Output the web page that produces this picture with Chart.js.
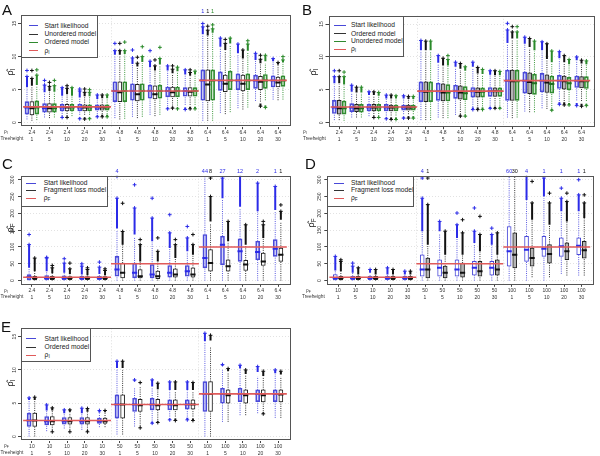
<!DOCTYPE html>
<html><head><meta charset="utf-8">
<script src="https://cdn.jsdelivr.net/npm/chart.js@4.4.1/dist/chart.umd.min.js"></script>
<style>
html,body{margin:0;padding:0;background:#fff;}
body{width:600px;height:456px;position:relative;overflow:hidden;font-family:"Liberation Sans",Arial,Helvetica,sans-serif;color:#222;}
canvas{position:absolute;}
.letter{position:absolute;font-size:15px;line-height:15px;color:#111;}
.leg{position:absolute;border:1px solid #555;background:#fff;box-sizing:border-box;z-index:2;}
.leg .ln{position:absolute;height:0;border-top:1px solid;}
.leg .tx{position:absolute;font-size:6.7px;line-height:8px;white-space:nowrap;color:#222;}
.rowh{position:absolute;font-size:4.8px;line-height:6px;white-space:nowrap;color:#333;}
.ylab{position:absolute;font-size:9px;line-height:10px;white-space:nowrap;transform:translate(-50%,-50%) rotate(-90deg);color:#222;}
sub{font-size:70%;vertical-align:-0.25em;line-height:0;}
</style>
</head><body>
<script>
// ---------- tick labels / categories ----------
const XR_PI = ['2.4','2.4','2.4','2.4','2.4','4.8','4.8','4.8','4.8','4.8','6.4','6.4','6.4','6.4','6.4'];
const XR_PF = ['10','10','10','10','10','50','50','50','50','50','100','100','100','100','100'];
const XR_TREE = ['1','5','10','20','30','1','5','10','20','30','1','5','10','20','30'];
const YT_I = [0,5,10,15];
const YT_F = [0,50,100,150,200,250,300];
const REF_I = [2.4,4.8,6.4];
const REF_F = [10,50,100];

// ---------- box stats: [whisker low, Q1, median, Q3, whisker high] ----------
// outliers: [cluster low, cluster high, extreme] ; low: [low, high] of low outliers
const A_START_BOX = [[0.5,1.3,2.3,3.2,5.4],[0.8,1.6,2.2,2.9,4.5],[1.0,1.8,2.3,2.8,4.0],[1.2,1.8,2.3,2.8,3.7],[1.3,1.9,2.3,2.7,3.5],[0.7,3.2,4.8,6.2,10.2],[0.9,3.4,4.8,5.9,8.8],[1.2,3.7,4.8,5.7,8.3],[2.5,3.9,4.8,5.4,7.8],[2.7,4.0,4.8,5.3,7.2],[0.3,3.4,6.4,8.0,13.3],[1.5,4.9,6.4,7.7,11.4],[2.2,5.0,6.4,7.4,10.4],[3.3,5.2,6.4,7.2,9.4],[3.5,5.4,6.4,7.1,9.2]];
const A_START_OUT = [[5.4,7.0,7.9],[4.6,5.7,6.4],[4.1,5.3,null],[3.8,4.8,5.1],[3.6,4.2,null],[10.3,10.9,12.0],[8.9,9.8,11.0],[8.4,9.3,10.9],[7.9,8.6,null],[7.3,8.0,null],[13.4,14.5,15.0],[11.5,12.8,null],[10.5,11.9,null],[9.5,10.5,null],[9.3,9.7,null]];
const A_START_LOW = [null,null,[0.8,0.9],[0.6,0.8],[0.9,1.1],null,null,null,[2.1,2.3],[2.0,2.3],null,null,null,null,null];
const A_START_CNT = ['','','','','','','','','','','1','','','',''];
const A_UNORD_BOX = [[0.3,1.2,2.2,3.2,5.5],[0.7,1.6,2.2,2.9,4.7],[1.0,1.8,2.3,2.8,4.2],[1.2,1.8,2.3,2.7,3.9],[1.3,1.9,2.3,2.7,3.6],[0.5,3.2,4.6,6.2,10.2],[0.7,3.3,4.3,5.8,8.4],[1.0,3.6,4.3,5.6,7.8],[2.6,3.9,4.6,5.4,7.4],[2.7,4.0,4.7,5.3,7.0],[0.3,3.3,5.8,8.0,13.1],[1.3,4.7,5.9,7.2,10.9],[2.0,4.8,5.9,7.2,9.6],[3.2,5.0,6.2,7.0,8.9],[3.4,5.4,6.1,6.9,8.7]];
const A_UNORD_OUT = [[5.6,6.7,7.9],[4.8,5.5,6.1],[4.3,5.2,5.6],[4.0,4.6,5.1],[3.7,4.2,null],[10.3,10.9,12.0],[8.5,9.0,9.9],[7.9,8.6,9.5],[7.5,8.1,8.6],[7.1,7.6,8.0],[13.2,14.0,14.6],[11.0,12.0,12.6],[9.7,11.0,null],[9.0,9.6,10.2],[8.8,9.1,null]];
const A_UNORD_LOW = [null,null,[0.8,0.9],[0.55,0.8],[0.9,1.2],null,null,null,[2.2,2.4],[2.1,2.4],null,null,null,[2.5,2.9],null];
const A_UNORD_CNT = ['','','','','','','','','','','1','','','',''];
const A_ORD_BOX = [[0.4,1.3,2.3,3.3,5.6],[0.8,1.6,2.2,2.9,4.6],[1.0,1.8,2.3,2.8,4.0],[1.2,1.8,2.3,2.7,3.9],[1.3,1.9,2.3,2.7,3.6],[0.6,3.2,4.8,6.2,10.3],[0.9,3.4,4.8,5.9,9.0],[1.2,3.7,4.8,5.7,8.6],[2.6,3.9,4.8,5.4,7.6],[2.7,4.0,4.8,5.3,7.1],[0.3,3.4,6.4,8.0,13.5],[1.6,5.0,6.4,7.8,11.8],[2.3,5.0,6.4,7.4,10.6],[3.4,5.2,6.4,7.3,9.0],[3.5,5.5,6.4,7.1,8.9]];
const A_ORD_OUT = [[5.7,7.2,8.0],[4.7,5.6,6.4],[4.1,5.3,null],[4.0,4.6,5.0],[3.7,4.2,null],[10.4,10.9,12.2],[9.2,10.0,11.5],[8.8,9.7,11.4],[7.8,8.4,null],[7.3,7.8,null],[13.6,14.2,14.8],[12.0,12.8,null],[10.9,11.9,12.4],[9.3,10.2,null],[9.1,9.5,10.0]];
const A_ORD_LOW = [null,null,null,[0.6,0.8],[0.9,1.2],null,null,null,[2.1,2.3],[2.1,2.4],null,null,null,[2.3,2.6],null];
const A_ORD_CNT = ['','','','','','','','','','','1','','','',''];

const B_START_BOX = [[0.4,1.4,2.3,3.4,5.8],[0.8,1.7,2.3,2.9,4.6],[1.0,1.8,2.3,2.8,4.1],[1.1,1.8,2.3,2.8,3.6],[1.3,1.9,2.3,2.7,3.6],[0.4,3.2,4.8,6.2,10.9],[0.8,3.4,4.8,6.0,9.0],[1.2,3.7,4.8,5.7,8.4],[2.4,3.9,4.8,5.35,8.3],[2.6,4.0,4.8,5.35,7.2],[0.8,3.4,6.4,8.0,12.0],[1.7,4.5,6.4,7.7,11.9],[2.2,4.7,6.4,7.5,10.9],[3.3,5.2,6.4,7.2,9.6],[3.4,5.35,6.4,7.1,9.4]];
const B_START_OUT = [[6.0,7.0,7.9],[4.7,5.7,null],[4.2,4.7,null],[3.7,4.2,null],[3.7,4.1,null],[11.0,12.5,null],[9.1,10.2,null],[8.5,9.2,null],[8.5,9.2,null],[7.3,7.9,null],[12.1,14.1,15.1],[12.0,13.0,null],[11.0,12.3,null],[9.8,10.8,null],[9.5,10.0,null]];
const B_START_LOW = [null,null,null,[0.6,0.8],[0.7,0.9],null,null,null,[2.0,2.3],[2.2,2.4],null,null,null,[2.8,3.1],[2.6,3.0]];
const B_ORD_BOX = [[0.4,1.3,2.2,3.4,5.8],[0.8,1.7,2.2,2.8,4.5],[1.0,1.8,2.3,2.8,4.0],[1.1,1.8,2.3,2.7,3.6],[1.3,1.9,2.3,2.7,3.5],[0.4,3.2,4.7,6.2,10.9],[0.7,3.3,4.6,5.9,8.6],[1.3,3.6,4.6,5.6,8.0],[2.5,3.9,4.7,5.3,7.4],[2.6,4.0,4.8,5.3,7.1],[0.7,3.4,6.3,8.0,12.6],[1.6,4.4,6.2,7.6,11.3],[2.1,4.6,6.1,7.3,9.6],[3.3,5.1,6.3,7.1,9.1],[3.3,5.3,6.3,7.0,8.9]];
const B_ORD_OUT = [[6.0,7.0,7.9],[4.6,5.4,null],[4.2,4.7,null],[3.7,4.2,null],[3.6,4.0,null],[11.0,12.4,null],[8.7,9.8,null],[8.2,9.0,null],[7.5,8.4,null],[7.2,7.9,null],[12.8,13.8,14.6],[11.5,12.8,null],[9.7,12.0,null],[9.2,10.2,null],[9.0,9.5,null]];
const B_ORD_LOW = [null,null,[0.8,0.9],[0.5,0.8],[0.7,1.0],null,null,[1.0,1.2],[2.0,2.3],[2.2,2.4],null,null,null,[2.7,3.1],[2.5,2.9]];
const B_UNORD_BOX = [[0.3,1.3,2.2,3.3,5.7],[0.8,1.6,2.2,2.8,4.5],[1.0,1.8,2.3,2.8,4.0],[1.1,1.8,2.3,2.7,3.6],[1.3,1.9,2.3,2.7,3.5],[0.4,3.2,4.8,6.2,10.8],[0.7,3.3,4.6,5.8,8.6],[1.2,3.5,4.5,5.5,7.8],[2.5,3.9,4.7,5.3,7.3],[2.6,4.0,4.8,5.3,7.1],[0.8,3.4,6.3,8.0,12.6],[1.6,4.3,6.0,7.4,10.8],[2.2,4.5,5.9,7.1,9.0],[3.2,5.0,6.0,6.9,8.8],[3.3,5.2,6.3,7.0,8.8]];
const B_UNORD_OUT = [[5.8,7.0,7.7],[4.6,5.4,null],[4.1,4.6,null],[3.7,4.1,null],[3.6,4.0,null],[11.0,12.4,null],[8.7,9.6,10.2],[7.9,8.5,null],[7.4,8.1,null],[7.2,7.8,null],[12.8,13.8,14.6],[11.0,12.4,null],[9.2,10.9,null],[8.9,9.6,null],[8.9,9.4,null]];
const B_UNORD_LOW = [null,null,[0.8,0.9],[0.5,0.8],[0.7,1.0],null,null,[1.0,1.1],[2.0,2.3],[2.2,2.4],null,null,[1.9,2.1],[2.7,3.0],[2.6,2.9]];

const C_START_BOX = [[0,3,11,18,38],[0,3,8,15,28],[0,3,8,14,23],[0,3,8,13,18],[0,3,8,13,20],[0,13,33,72,150],[0,8,23,52,130],[0,8,18,48,115],[0,10,23,45,95],[0,13,28,45,85],[0,38,67,137,312],[0,47,107,132,240],[0,57,87,124,215],[0,62,85,117,205],[0,72,95,122,205]];
const C_START_OUT = [[38,107,137],[28,67,69],[23,52,65],[18,43,50],[20,40,55],[155,245,310],[137,216,285],[117,186,245],[97,142,196],[87,127,161],null,[245,305,null],[220,310,null],[206,290,null],[210,280,null]];
const C_START_CNT = ['','','','','','4','','','','','44','27','12','2','1'];
const C_FRAG_BOX = [[0,3,8,13,28],[0,3,8,13,22],[0,3,8,12,20],[0,3,8,12,15],[0,3,8,12,15],[0,8,23,52,107],[0,8,13,33,55],[0,6,13,28,55],[0,10,18,35,65],[0,10,18,38,75],[0,28,52,92,170],[0,28,43,62,115],[0,30,48,60,105],[0,45,57,82,125],[0,57,77,97,175]];
const C_FRAG_OUT = [[28,67,null],[22,38,45],[20,35,52],[16,33,38],[16,30,35],[107,146,230],[57,107,122],[57,87,127],[67,107,122],[77,107,137],[176,250,305],[117,176,null],[107,166,null],[127,166,176],[181,206,225]];
const C_FRAG_CNT = ['','','','','','','','','','','8','','','','1'];

const D_START_BOX = [[0,3,8,18,30],[0,3,8,13,23],[0,3,8,13,20],[0,3,8,13,18],[0,3,8,13,18],[0,13,33,77,147],[0,13,38,62,140],[0,13,33,62,125],[0,16,38,57,110],[0,16,38,57,105],[0,43,87,161,312],[0,57,92,132,238],[0,72,95,132,245],[20,72,102,127,205],[15,77,104,127,205]];
const D_START_OUT = [[30,72,null],[23,43,52],[23,33,null],[18,38,null],[18,28,null],[147,245,305],[147,176,null],[127,166,201],[112,147,216],[107,137,156],null,[240,310,null],[250,305,null],[206,245,275],[206,255,300]];
const D_START_CNT = ['','','','','','4','','','','','60','4','1','1','1'];
const D_FRAG_BOX = [[0,3,8,13,28],[0,3,8,13,18],[0,3,8,13,18],[0,3,8,13,18],[0,3,8,13,18],[0,8,33,67,107],[0,8,23,43,77],[0,10,23,52,77],[0,13,28,57,87],[0,16,33,62,77],[0,38,77,142,312],[10,43,67,97,181],[10,52,79,107,166],[15,62,87,112,176],[15,67,90,117,186]];
const D_FRAG_OUT = [[28,57,62],[18,38,null],[18,33,null],[18,33,null],[18,28,null],[107,226,305],[77,147,null],[77,142,181],[87,137,191],[77,142,null],null,[181,231,295],[166,231,260],[176,235,260],[186,231,255]];
const D_FRAG_CNT = ['','','','','','1','','','','','30','','','','1'];

const E_START_BOX = [[0,1.5,2.4,3.5,5.4],[0.8,1.75,2.3,3.0,3.8],[1.2,1.85,2.3,2.85,3.4],[1.0,1.85,2.3,2.85,3.4],[1.4,1.95,2.3,2.75,3.5],[0.3,2.75,4.8,6.25,10.2],[1.5,3.75,4.8,5.75,7.3],[2.4,4.0,4.8,5.75,7.3],[3.0,4.0,4.8,5.5,6.9],[3.0,4.1,4.8,5.5,6.9],[0,3.75,6.4,8.25,14.2],[2.2,5.0,6.4,7.25,10.0],[3.2,5.25,6.4,7.25,10.0],[3.5,5.25,6.4,7.0,9.0],[2.8,5.25,6.4,7.0,9.4]];
const E_START_OUT = [[5.5,5.8,null],[3.9,4.75,null],[3.5,4.0,null],[3.5,4.25,null],[3.6,3.9,null],[10.3,11.3,null],[8.3,8.5,null],[7.5,8.5,null],[7.0,8.2,null],[7.0,8.2,null],[14.3,15.5,null],[10.6,10.8,null],[10.2,10.7,null],[9.7,10.5,null],[9.5,10.0,null]];
const E_START_LOW = [null,null,null,null,null,null,null,[2.0,2.2],[2.5,2.7],[2.5,2.8],null,null,null,null,null];
const E_ORD_BOX = [[0,1.5,2.4,3.5,5.4],[1.0,1.75,2.3,3.0,3.8],[1.0,1.85,2.3,2.85,3.6],[1.0,1.85,2.3,2.85,3.6],[1.4,1.95,2.3,2.75,3.6],[0.3,2.75,4.8,6.25,10.0],[1.6,3.75,4.7,5.6,7.5],[2.5,4.0,4.7,5.6,7.0],[3.0,4.0,4.7,5.5,6.8],[3.0,4.1,4.8,5.5,6.8],[0,3.75,6.4,8.25,13.5],[2.2,5.0,6.2,7.0,9.5],[3.2,5.0,6.2,7.0,9.2],[3.8,5.2,6.2,7.0,9.0],[2.8,5.2,6.3,7.0,9.0]];
const E_ORD_OUT = [[5.5,5.9,null],[3.9,4.3,null],[3.7,4.0,null],[3.7,4.2,null],[3.7,3.9,null],[10.3,11.3,null],[8.0,8.1,null],[7.1,8.0,null],[7.0,8.2,null],[7.0,8.1,null],[14.4,15.2,null],[9.8,10.2,null],[9.4,10.0,null],[9.1,9.8,null],[9.3,9.8,null]];
const E_ORD_LOW = [null,[0.7,0.8],[0.7,0.8],[0.7,0.9],null,null,[1.3,1.4],[2.1,2.3],[2.4,2.7],[2.4,2.7],null,null,null,[3.4,3.6],null];

// ---------- styles ----------
const FONT = '"Liberation Sans", Arial, Helvetica, sans-serif';
const BLUE = {color:'#4848d8', pcolor:'#2b2be8', mcolor:'#2b2be8', wcolor:'#5a5ae0'};
const BLACK = {color:'#222222', pcolor:'#111111', mcolor:'#111111', wcolor:'#333333'};
const GREEN = {color:'#2f8a2f', pcolor:'#2a8a2a', mcolor:'#226e22', wcolor:'#3a963a'};
const FILL_B = 'rgba(110,110,235,0.28)', FILL_G = 'rgba(70,160,70,0.28)', FILL_W = '#ffffff', FILL_GRAY = '#b4b4b4';
const XMIN = 0.38, XMAX = 15.72;

const PANELS = [
 {key:'A', box:{x:0,y:0,w:300,h:146}, area:{l:21,t:15.3,r:290.7,b:126.7}, y:[-0.6,16.25], yt:YT_I, row1:XR_PI, rowHead:'ρ<sub>I</sub>', ref:REF_I,
  ylab:'ρ̂<sub>I</sub>', ylabPos:[10,72], letterPos:[2,1.5], rowPos:[[4,132],[0.5,139]],
  legend:{w:77,h:42.5,rows:[10,18.3,26.7,35],lx:[7,15.5],tx:22.5, items:[['Start likelihood',BLUE.color],['Unordered model','#333'],['Ordered model',GREEN.color],['ρ<sub>I</sub>','#e05a5a']]},
  series:[
   Object.assign({off:-0.28, fill:FILL_B, box:A_START_BOX, out:A_START_OUT, low:A_START_LOW, cnt:A_START_CNT}, BLUE),
   Object.assign({off:0, fill:FILL_W, box:A_UNORD_BOX, out:A_UNORD_OUT, low:A_UNORD_LOW, cnt:A_UNORD_CNT}, BLACK),
   Object.assign({off:0.28, fill:FILL_G, box:A_ORD_BOX, out:A_ORD_OUT, low:A_ORD_LOW, cnt:A_ORD_CNT}, GREEN)]},
 {key:'B', box:{x:300,y:0,w:300,h:146}, area:{l:328.5,t:15.8,r:596,b:126.7}, y:[-0.6,16.25], yt:YT_I, row1:XR_PI, rowHead:'ρ<sub>I</sub>', ref:REF_I,
  ylab:'ρ̂<sub>I</sub>', ylabPos:[312.5,72], letterPos:[302,1.5], rowPos:[[303,132],[303,139]],
  legend:{w:75,h:41,rows:[9,17.3,25,33],lx:[4,16],tx:21.5, items:[['Start likelihood',BLUE.color],['Ordered model','#333'],['Unordered model',GREEN.color],['ρ<sub>I</sub>','#e05a5a']]},
  series:[
   Object.assign({off:-0.28, fill:FILL_B, box:B_START_BOX, out:B_START_OUT, low:B_START_LOW}, BLUE),
   Object.assign({off:0, fill:FILL_GRAY, box:B_ORD_BOX, out:B_ORD_OUT, low:B_ORD_LOW}, BLACK),
   Object.assign({off:0.28, fill:FILL_G, box:B_UNORD_BOX, out:B_UNORD_OUT, low:B_UNORD_LOW}, GREEN)]},
 {key:'C', box:{x:0,y:146,w:300,h:154}, area:{l:21,t:175.7,r:290.7,b:284.3}, y:[-11,312], yt:YT_F, row1:XR_PI, rowHead:'ρ<sub>I</sub>', ref:REF_F,
  ylab:'ρ̂<sub>F</sub>', ylabPos:[10,228], letterPos:[2,156], rowPos:[[4,290.7],[0.5,297]],
  legend:{w:86.5,h:31,rows:[7,14.3,22],lx:[4,14],tx:21.7, items:[['Start likelihood',BLUE.color],['Fragment loss model','#333'],['ρ<sub>F</sub>','#e05a5a']]},
  series:[
   Object.assign({off:-0.16, fill:FILL_B, box:C_START_BOX, out:C_START_OUT, cnt:C_START_CNT}, BLUE),
   Object.assign({off:0.16, fill:FILL_W, box:C_FRAG_BOX, out:C_FRAG_OUT, cnt:C_FRAG_CNT}, BLACK)]},
 {key:'D', box:{x:300,y:146,w:300,h:154}, area:{l:327.3,t:175.7,r:597.3,b:284.3}, y:[-11,312], yt:YT_F, row1:XR_PF, rowHead:'ρ<sub>F</sub>', ref:REF_F,
  ylab:'ρ̂<sub>F</sub>', ylabPos:[311,223], letterPos:[305,156], rowPos:[[306,290.7],[302,297]],
  legend:{w:86.7,h:31,rows:[7,14.3,22],lx:[6,16],tx:22.7, items:[['Start likelihood',BLUE.color],['Fragment loss model','#333'],['ρ<sub>F</sub>','#e05a5a']]},
  series:[
   Object.assign({off:-0.16, fill:FILL_W, box:D_START_BOX, out:D_START_OUT, cnt:D_START_CNT}, BLUE),
   Object.assign({off:0.16, fill:FILL_GRAY, box:D_FRAG_BOX, out:D_FRAG_OUT, cnt:D_FRAG_CNT}, BLACK)]},
 {key:'E', box:{x:0,y:300,w:300,h:156}, area:{l:21,t:328.3,r:290.7,b:440.5}, y:[-0.6,16.25], yt:YT_I, row1:XR_PF, rowHead:'ρ<sub>F</sub>', ref:REF_I,
  ylab:'ρ̂<sub>I</sub>', ylabPos:[10,383], letterPos:[1,319], rowPos:[[4,446],[0.5,453]],
  legend:{w:69.5,h:33.5,rows:[10,18.4,26.7],lx:[4,14],tx:22.6, items:[['Start likelihood',BLUE.color],['Ordered model','#333'],['ρ<sub>I</sub>','#e05a5a']]},
  series:[
   Object.assign({off:-0.16, fill:FILL_B, box:E_START_BOX, out:E_START_OUT, low:E_START_LOW}, BLUE),
   Object.assign({off:0.16, fill:FILL_W, box:E_ORD_BOX, out:E_ORD_OUT, low:E_ORD_LOW}, BLACK)]}
];

function seriesDatasets(s){
  const X = i => i + 1 + s.off;
  const ds = [];
  ds.push({type:'bar', data:s.box.map((b,i)=>({x:X(i), y:[b[1], b[3]]})), backgroundColor:s.fill, borderColor:s.color,
           borderWidth:1, borderSkipped:false, grouped:false, barThickness:4, order:5});
  const wh = [];
  s.box.forEach((b,i)=>{ const x=X(i); wh.push({x,y:b[0]},{x,y:b[1]},{x,y:null},{x,y:b[3]},{x,y:b[4]},{x,y:null}); });
  ds.push({type:'line', data:wh, borderColor:s.wcolor, borderWidth:1, borderDash:[1,1.2], pointRadius:0, spanGaps:false, order:6});
  ds.push({type:'line', data:s.box.map((b,i)=>({x:X(i), y:b[2]})), showLine:false, pointStyle:'line', pointRadius:2.6,
           pointBorderWidth:2, pointBorderColor:s.mcolor, borderColor:s.mcolor, order:4});
  const cl = [], pts = [];
  (s.out||[]).forEach((o,i)=>{ if(!o) return; const x=X(i); cl.push({x,y:o[0]},{x,y:o[1]},{x,y:null}); pts.push({x,y:o[1]}); if(o[2]!=null) pts.push({x,y:o[2]}); });
  (s.low||[]).forEach((o,i)=>{ if(!o) return; const x=X(i); cl.push({x,y:o[0]},{x,y:o[1]},{x,y:null}); pts.push({x,y:o[0]}); });
  ds.push({type:'line', data:cl, borderColor:s.pcolor, borderWidth:2, pointRadius:0, spanGaps:false, order:3});
  ds.push({type:'line', data:pts, showLine:false, pointStyle:'cross', pointRadius:1.9, pointBorderWidth:1,
           pointBorderColor:s.pcolor, pointBackgroundColor:s.pcolor, order:3});
  return ds;
}
function refDataset(ref){
  const d = [];
  ref.forEach((v,k)=>{ d.push({x:5*k+0.5,y:v},{x:5*k+5.5,y:v},{x:5*k+5.5,y:null}); });
  return {type:'line', data:d, borderColor:'#e05a5a', borderWidth:1.6, pointRadius:0, spanGaps:false, order:0};
}
function framePlugin(p){
  return {id:'frame'+p.key, afterDraw(chart){
    const {ctx, chartArea:a} = chart; const x = chart.scales.x;
    ctx.save();
    ctx.strokeStyle = '#555'; ctx.lineWidth = 1;
    ctx.strokeRect(Math.round(a.left)+0.5, Math.round(a.top)+0.5, Math.round(a.right-a.left)-1, Math.round(a.bottom-a.top)-1);
    ctx.font = '5.5px ' + FONT; ctx.textAlign = 'center'; ctx.textBaseline = 'bottom';
    p.series.forEach(s=>{ (s.cnt||[]).forEach((c,i)=>{ if(!c) return; ctx.fillStyle = s.pcolor; ctx.fillText(c, x.getPixelForValue(i+1+s.off), a.top-1.5); }); });
    ctx.restore();
  }};
}
const XT = [1,2,3,4,5,5.5,6,7,8,9,10,10.5,11,12,13,14,15];

PANELS.forEach(p=>{
  const W = p.box.w, H = p.box.h;
  const aL = p.area.l - p.box.x, aT = p.area.t - p.box.y, aR = p.area.r - p.box.x, aB = p.area.b - p.box.y;
  const cv = document.createElement('canvas');
  cv.width = W; cv.height = H; cv.style.left = p.box.x+'px'; cv.style.top = p.box.y+'px';
  cv.style.width = W+'px'; cv.style.height = H+'px';
  document.body.appendChild(cv);
  const datasets = [];
  p.series.forEach(s=>datasets.push(...seriesDatasets(s)));
  datasets.push(refDataset(p.ref));
  new Chart(cv.getContext('2d'), {
    type:'bar', data:{datasets}, plugins:[framePlugin(p)],
    options:{responsive:false, maintainAspectRatio:false, animation:false, devicePixelRatio:1,
      layout:{padding:{left:0, top:aT, right:W-aR, bottom:0}},
      plugins:{legend:{display:false}, tooltip:{enabled:false}},
      events:[],
      scales:{
        x:{type:'linear', min:XMIN, max:XMAX, offset:false,
           afterFit:sc=>{ sc.height = H - aB; },
           afterBuildTicks:sc=>{ sc.ticks = XT.map(v=>({value:v})); },
           ticks:{autoSkip:false, maxRotation:0, minRotation:0, padding:0, color:'#333',
                  font:{size:5, family:FONT, lineHeight:1.4},
                  callback:v=> Number.isInteger(v) ? [p.row1[v-1], XR_TREE[v-1]] : ''},
           grid:{offset:false, color:c=> (c.tick && Number.isInteger(c.tick.value)) ? 'rgba(0,0,0,0)' : '#dedede',
                 tickColor:c=> (c.tick && Number.isInteger(c.tick.value)) ? '#444' : 'rgba(0,0,0,0)', tickLength:2.5, lineWidth:1},
           border:{display:false, dash:[1,2]}},
        y:{type:'linear', min:p.y[0], max:p.y[1],
           afterFit:sc=>{ sc.width = aL; },
           afterBuildTicks:sc=>{ sc.ticks = p.yt.map(v=>({value:v})); },
           ticks:{minRotation:90, maxRotation:90, crossAlign:'center', padding:1, color:'#333', font:{size:5, family:FONT}},
           grid:{color:'#e2e2e2', tickColor:'#444', tickLength:3, lineWidth:1},
           border:{display:false, dash:[1,2]}}
      }}
  });
  const L = document.createElement('div'); L.className='letter'; L.textContent=p.key;
  L.style.left=p.letterPos[0]+'px'; L.style.top=p.letterPos[1]+'px'; document.body.appendChild(L);
  const Y = document.createElement('div'); Y.className='ylab'; Y.innerHTML=p.ylab;
  Y.style.left=p.ylabPos[0]+'px'; Y.style.top=p.ylabPos[1]+'px'; document.body.appendChild(Y);
  [p.rowHead,'Treeheight'].forEach((t,k)=>{ const r=document.createElement('div'); r.className='rowh'; r.innerHTML=t;
    r.style.left=p.rowPos[k][0]+'px'; r.style.top=(p.rowPos[k][1]-3)+'px'; document.body.appendChild(r); });
  const lg = p.legend; const G = document.createElement('div'); G.className='leg';
  G.style.left=p.area.l+'px'; G.style.top=p.area.t+'px'; G.style.width=lg.w+'px'; G.style.height=lg.h+'px';
  lg.items.forEach((it,k)=>{
    const ln=document.createElement('div'); ln.className='ln'; ln.style.borderTopColor=it[1];
    ln.style.left=lg.lx[0]+'px'; ln.style.width=(lg.lx[1]-lg.lx[0])+'px'; ln.style.top=(lg.rows[k]-1)+'px'; G.appendChild(ln);
    const tx=document.createElement('div'); tx.className='tx'; tx.innerHTML=it[0];
    tx.style.left=lg.tx+'px'; tx.style.top=(lg.rows[k]-4.5)+'px'; G.appendChild(tx);
  });
  document.body.appendChild(G);
});
</script>
</body></html>
